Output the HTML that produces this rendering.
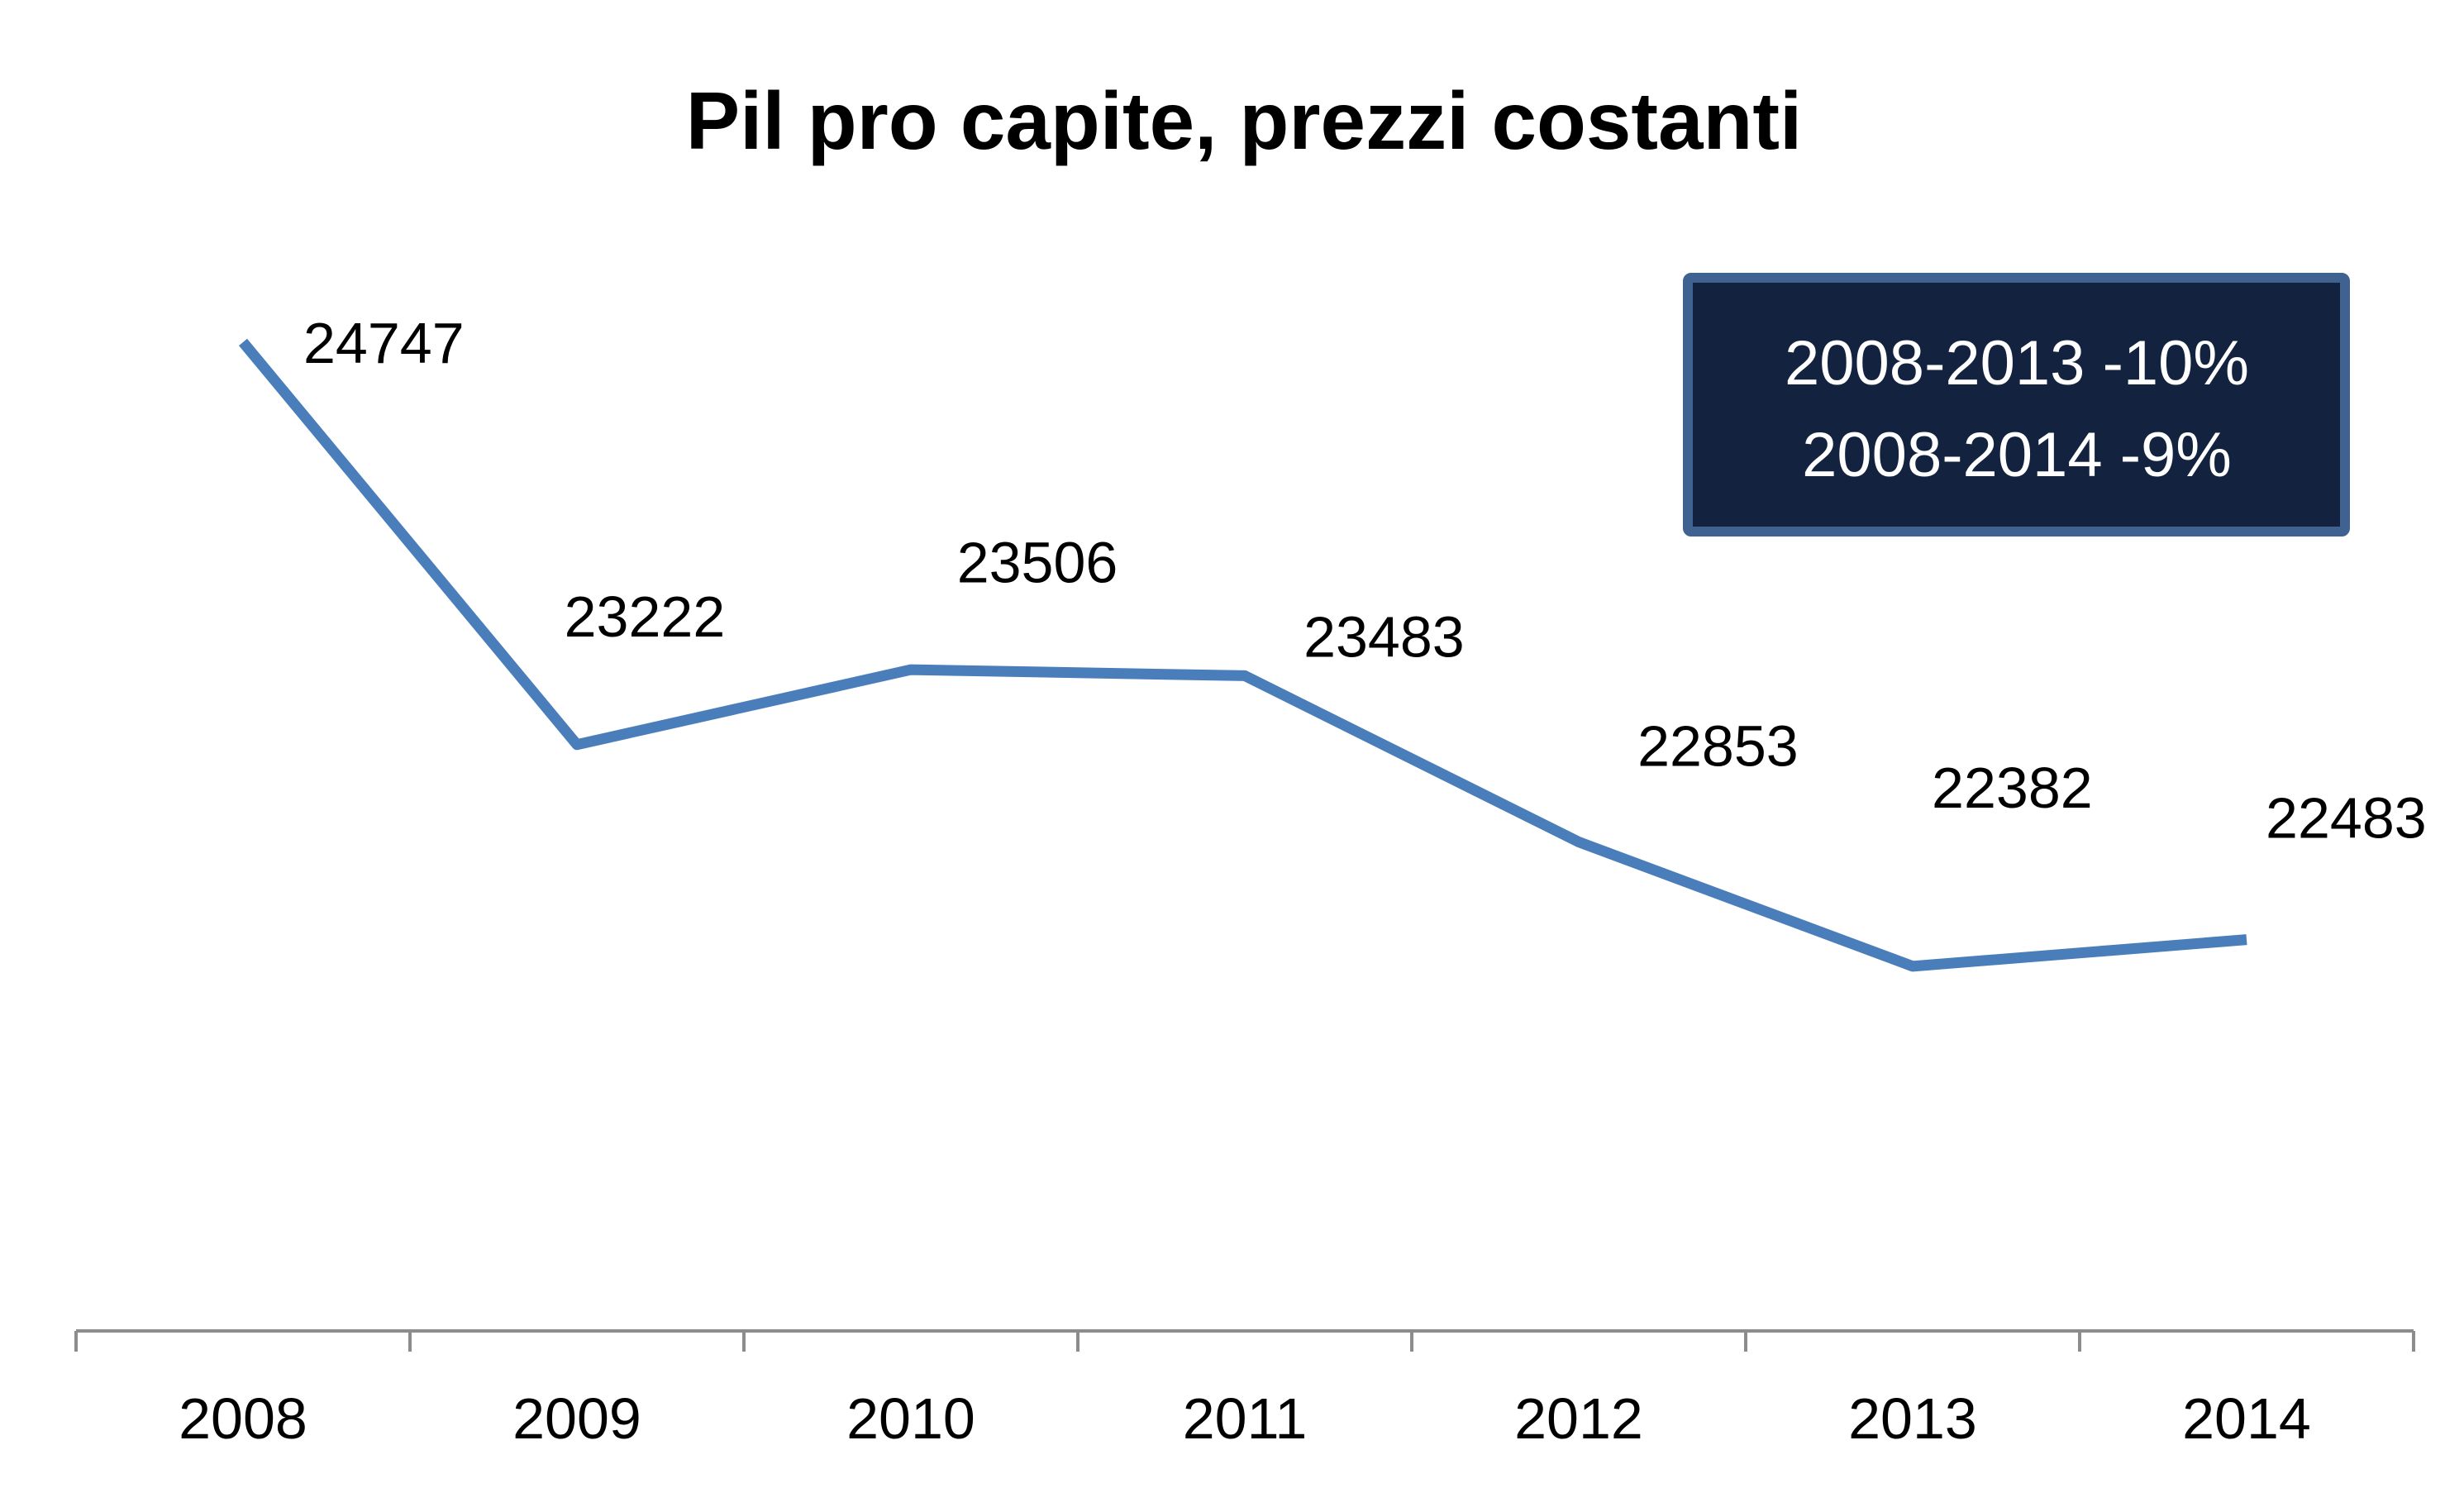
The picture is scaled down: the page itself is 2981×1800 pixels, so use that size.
<!DOCTYPE html>
<html><head><meta charset="utf-8"><style>
html,body{margin:0;padding:0;background:#fff;}
svg{display:block;font-family:"Liberation Sans",sans-serif;}
</style></head><body>
<svg id="chart" width="2981" height="1800" viewBox="0 0 2981 1800" xmlns="http://www.w3.org/2000/svg">
<text x="1505" y="180" text-anchor="middle" font-size="98" font-weight="bold" fill="#000">Pil pro capite, prezzi costanti</text>
<g>
<rect x="2042" y="336" width="795" height="307" fill="#13233f" stroke="#3f6291" stroke-width="12" rx="4"/>
<text x="2440" y="465" text-anchor="middle" font-size="76" fill="#fff">2008-2013 -10%</text>
<text x="2440" y="576" text-anchor="middle" font-size="76" fill="#fff">2008-2014 -9%</text>
</g>
<g id="axis"></g>
<g id="plot"></g>
</svg>
<script>
const categories = ["2008","2009","2010","2011","2012","2013","2014"];
const values = [24747,23222,23506,23483,22853,22382,22483];
const valueLabels = ["24747","23222","23506","23483","22853","22382","22483"];
const labelDy = [0,-81,-68,-25,-61,-113,-77];
const labelDx = [38,-8,29,37,37,12,12];

const NS="http://www.w3.org/2000/svg";
const axisX0=92, axisX1=2920, axisY=1610, yMin=21000, pxPerUnit=0.3192;
const band=(axisX1-axisX0)/categories.length;
function xPos(i){return axisX0+band*(i+0.5);}
function yPos(v){return axisY-(v-yMin)*pxPerUnit;}
const S=1.9207;
const axis=document.getElementById('axis'), plot=document.getElementById('plot');
function mk(tag,attrs,parent){const e=document.createElementNS(NS,tag);for(const k in attrs)e.setAttribute(k,attrs[k]);parent.appendChild(e);return e;}
const base=mk('line',{x1:axisX0,x2:axisX1,y1:axisY,y2:axisY,stroke:'#8c8c8c','stroke-width':4},axis);


for(let i=0;i<=categories.length;i++){
  const x=axisX0+band*i;
  const t=mk('line',{x1:x,x2:x,y1:axisY,y2:axisY+25,stroke:'#8c8c8c','stroke-width':4},axis);
  
  
}
categories.forEach((c,i)=>{
  const t=mk('text',{x:xPos(i),y:1740,'text-anchor':'middle','font-size':70,fill:'#000'},axis);
  t.textContent=c;
  
  
});
const pts=values.map((v,i)=>xPos(i)+','+yPos(v)).join(' ');
const line=mk('polyline',{points:pts,fill:'none',stroke:'#4a7ebb','stroke-width':13,'stroke-linejoin':'round'},plot);


values.forEach((v,i)=>{
  const t=mk('text',{x:xPos(i)+labelDx[i]*S,y:yPos(v)+labelDy[i]*S+25,'font-size':70,fill:'#000'},plot);
  t.textContent=valueLabels[i];
  
  
});
</script>
</body></html>
